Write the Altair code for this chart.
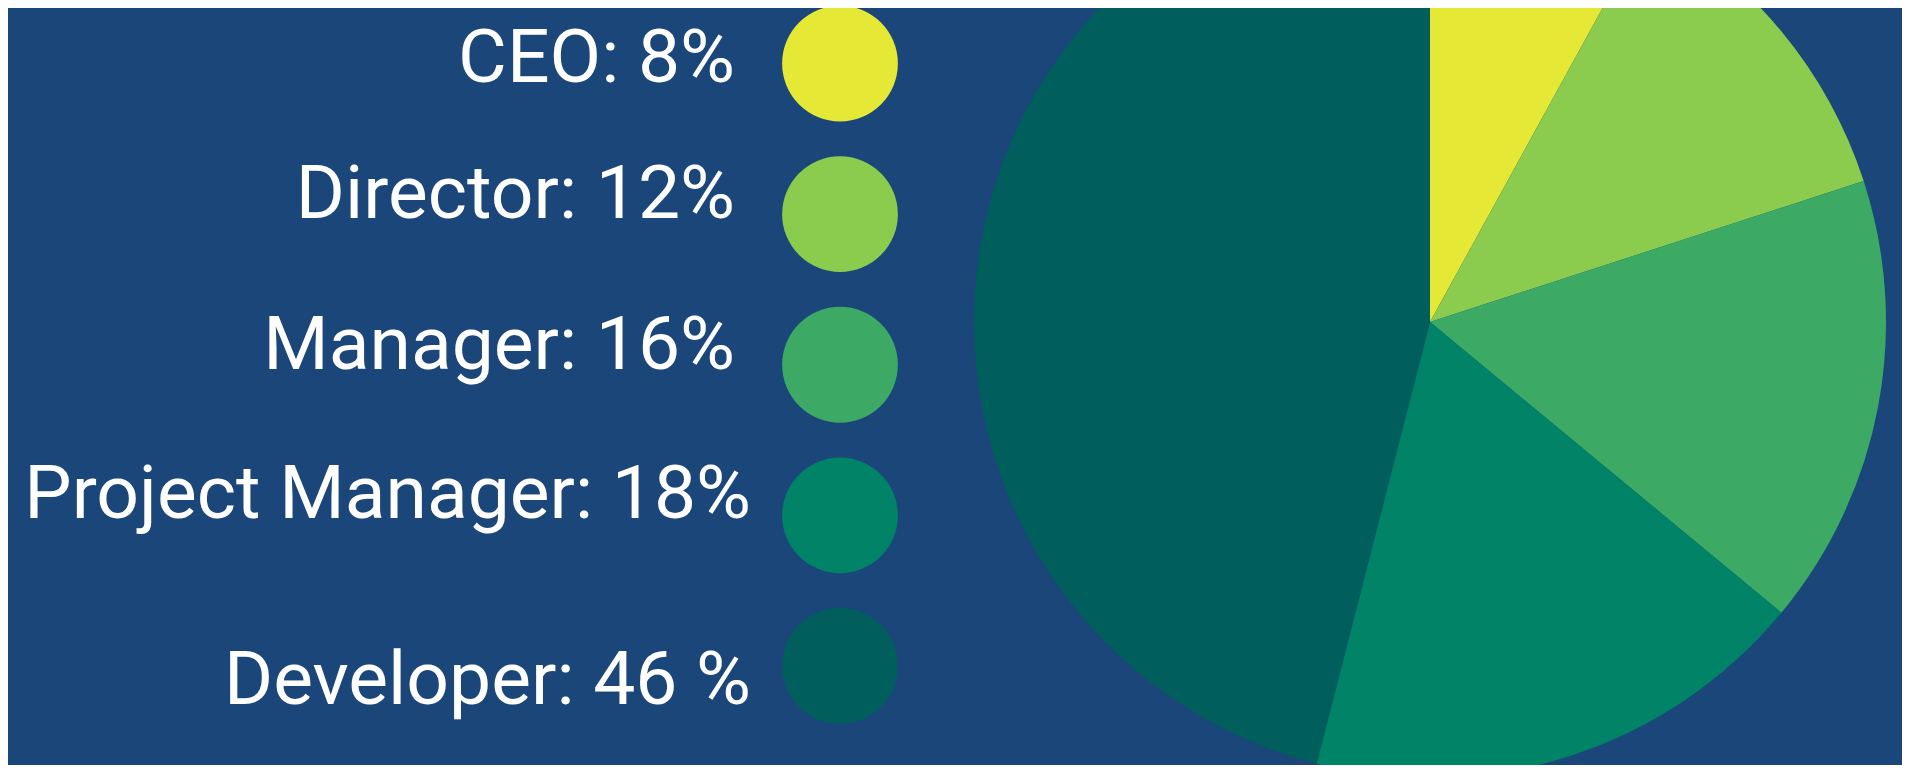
import altair as alt
import pandas as pd

categories = ["CEO", "Director", "Manager", "Project Manager", "Developer"]
shares = [8, 12, 16, 18, 46]
labels = ["CEO: 8%", "Director: 12%", "Manager: 16%", "Project Manager: 18%", "Developer: 46 %"]
colors = ["#e5e835", "#8bcc4e", "#3caa64", "#008367", "#005e5d"]

df = pd.DataFrame({
    "category": categories,
    "share": shares,
    "label": labels,
    "rank": list(range(len(categories))),
})

BG = "#1b4679"
color_scale = alt.Scale(domain=categories, range=colors)
y_scale = alt.Scale(domain=categories, range=[55.5, 658], padding=0)

base = alt.Chart(df)

pie = base.mark_arc(radius=456).encode(
    theta=alt.Theta("share:Q", stack=True),
    order=alt.Order("rank:Q"),
    color=alt.Color("category:N", scale=color_scale, legend=None),
    x=alt.value(1422),
    y=alt.value(314),
)

dots = base.mark_circle(size=13400, opacity=1).encode(
    x=alt.value(832),
    y=alt.Y("category:N", scale=y_scale, axis=None, sort=categories),
    color=alt.Color("category:N", scale=color_scale, legend=None),
)

# small per-row label nudges to match the reference layout
label_dx = [0, 0, 0, 16, 16]
label_dy = [18.5, 4, 4, 3, 38]

texts = []
for i, c in enumerate(categories):
    texts.append(
        base.transform_filter(alt.datum.category == c)
        .mark_text(
            align="right",
            baseline="alphabetic",
            dx=label_dx[i],
            dy=label_dy[i],
            fontSize=75,
            font="Roboto",
            color="white",
        )
        .encode(
            x=alt.value(727),
            y=alt.Y("category:N", scale=y_scale, axis=None, sort=categories),
            text="label:N",
        )
    )

chart = (
    alt.layer(pie, dots, *texts)
    .properties(width=1894, height=757, padding=0, autosize="none", background=BG)
    .configure_view(stroke=None)
)

chart.save("out.html", embed_options={"renderer": "svg", "actions": False})
